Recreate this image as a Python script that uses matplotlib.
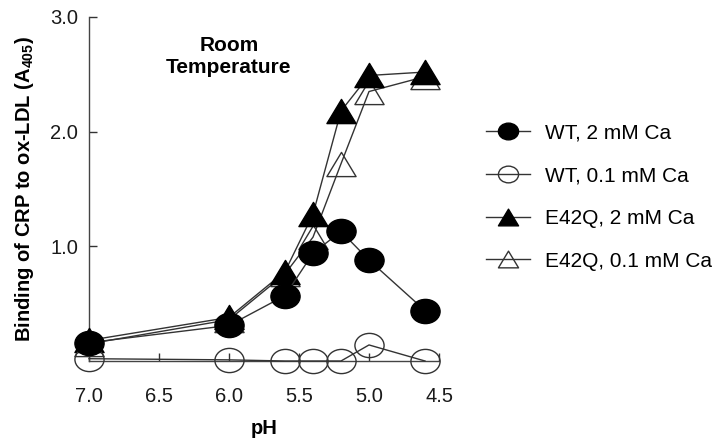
"""pH dependence of CRP binding to ox-LDL at room temperature."""

import matplotlib

matplotlib.use("Agg")

import matplotlib.pyplot as plt
from matplotlib.path import Path
from matplotlib.transforms import Affine2D

ph = [7.0, 6.0, 5.6, 5.4, 5.2, 5.0, 4.6]
wt_2mm = [0.16, 0.31, 0.57, 0.94, 1.13, 0.88, 0.44]
wt_01mm = [0.02, 0.01, 0.0, 0.0, 0.0, 0.14, 0.0]
e42q_2mm = [0.18, 0.38, 0.78, 1.28, 2.18, 2.49, 2.52]
e42q_01mm = [0.15, 0.36, 0.76, 1.08, 1.72, 2.35, 2.48]
labels = ["WT, 2 mM Ca", "WT, 0.1 mM Ca", "E42Q, 2 mM Ca", "E42Q, 0.1 mM Ca"]
xticks = [7.0, 6.5, 6.0, 5.5, 5.0, 4.5]
yticks = [1.0, 2.0, 3.0]

plt.rcParams["font.family"] = ["Liberation Sans", "DejaVu Sans"]
plt.rcParams["mathtext.fontset"] = "custom"
plt.rcParams["mathtext.rm"] = "Liberation Sans"
plt.rcParams["mathtext.bf"] = "Liberation Sans:bold"

# squashed markers, like the original figure
ellipse = Path.unit_circle().transformed(Affine2D().scale(1.0, 0.83))
triangle = Path(
    [(0, 0.83), (-1, -0.83), (1, -0.83), (0, 0.83)],
    [Path.MOVETO, Path.LINETO, Path.LINETO, Path.CLOSEPOLY],
)

fig = plt.figure(figsize=(7.22, 4.41), dpi=100)
ax = fig.add_axes([89 / 722, 1 - 361 / 441, 350 / 722, 344 / 441])

series = [
    (wt_2mm, ellipse, "black", 6),
    (wt_01mm, ellipse, "none", 5),
    (e42q_2mm, triangle, "black", 4),
    (e42q_01mm, triangle, "none", 3),
]
for (values, marker, face, z), label in zip(series, labels):
    ax.plot(
        ph,
        values,
        color="#333333",
        lw=1.0,
        marker=marker,
        markersize=21,
        markerfacecolor=face,
        markeredgecolor="black" if face == "black" else "#333333",
        markeredgewidth=1.0,
        label=label,
        zorder=z,
        clip_on=False,
    )

ax.set_xlim(7.0, 4.5)
ax.set_ylim(0, 3.0)
ax.set_xticks(xticks)
ax.set_xticklabels([f"{t:.1f}" for t in xticks])
ax.set_yticks(yticks)
ax.set_yticklabels([f"{t:.1f}" for t in yticks])
ax.tick_params(axis="both", direction="in", length=6, width=1.0, color="#333333",
               labelsize=14.5, labelcolor="#1a1a1a")
ax.tick_params(axis="x", pad=19)
ax.tick_params(axis="y", pad=8)
for side in ["top", "right"]:
    ax.spines[side].set_visible(False)
for side in ["left", "bottom"]:
    ax.spines[side].set_color("#444444")
    ax.spines[side].set_linewidth(1.0)

ax.set_xlabel("pH", fontsize=14.5, fontweight="bold", labelpad=9)
ax.set_ylabel(r"Binding of CRP to ox-LDL (A$_{\mathbf{405}}$)", fontsize=14.5,
              fontweight="bold", labelpad=10)
ax.text(0.4, 0.885, "Room\nTemperature", transform=ax.transAxes, ha="center",
        va="center", fontsize=15, fontweight="bold", linespacing=1.25)

fig.legend(
    loc="center left",
    bbox_to_anchor=(486 / 722, 1 - 197 / 441),
    frameon=False,
    fontsize=15,
    markerscale=0.69,
    handlelength=2.1,
    handletextpad=0.75,
    labelspacing=1.14,
    borderpad=0,
    borderaxespad=0,
)

fig.savefig("out.png", dpi=100)
